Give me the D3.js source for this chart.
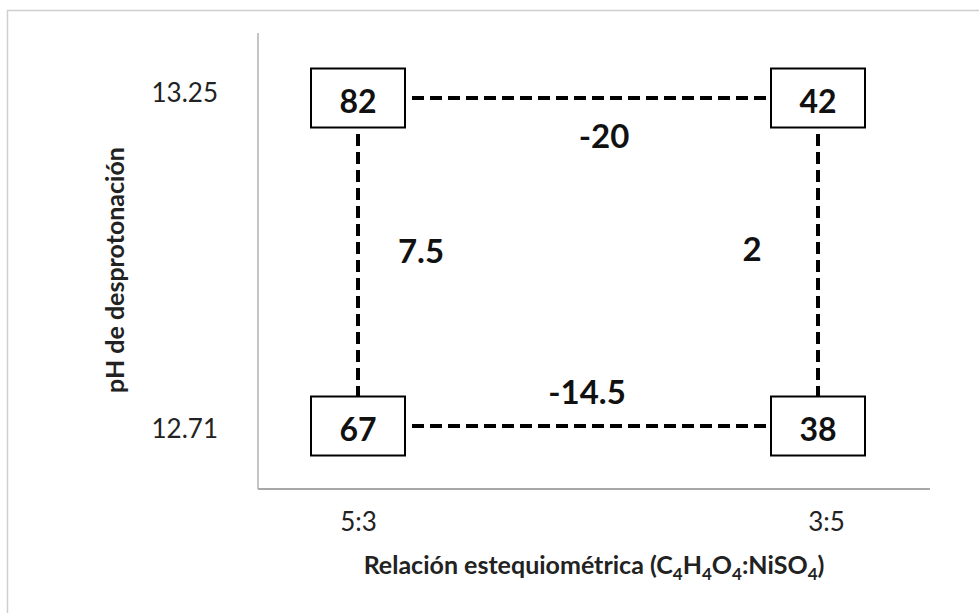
<!DOCTYPE html>
<html>
<head>
<meta charset="utf-8">
<script src="https://cdn.jsdelivr.net/npm/d3@7"></script>
<style>
  body { margin: 0; background: #fff; }
  svg { font-family: Lato, "Open Sans", sans-serif; }
</style>
</head>
<body>
<svg class="chart" width="979" height="613"></svg>
<script>
// factors: ratio (x) and deprotonation pH (y)
var ratios = ["5:3", "3:5"];
var phLevels = [13.25, 12.71];
var phLabels = ["13.25", "12.71"];

// response at each corner
var cells = [
    {ratio: "5:3", ph: 13.25, value: 82},
    {ratio: "3:5", ph: 13.25, value: 42},
    {ratio: "5:3", ph: 12.71, value: 67},
    {ratio: "3:5", ph: 12.71, value: 38}
];

// effects along each edge of the square
var effects = [
    {from: 0, to: 1, label: "-20"},
    {from: 2, to: 3, label: "-14.5"},
    {from: 0, to: 2, label: "7.5"},
    {from: 1, to: 3, label: "2"}
];

var W = 979, H = 613;
var plot = {left: 258, right: 930, top: 33, bottom: 489};
var boxW = 94, boxH = 59;

var svg = d3.select("svg.chart");

var x = d3.scalePoint().domain(ratios).range([358, 818]);
var y = d3.scaleLinear().domain([12.71, 13.25]).range([426, 98]);

// outer frame
svg.append("rect")
    .attr("x", 7.5).attr("y", 10.5)
    .attr("width", W + 10).attr("height", H + 10)
    .attr("fill", "none")
    .attr("stroke", "#cfcfcf")
    .attr("stroke-width", 1.5);

// axis lines
svg.append("line")
    .attr("x1", plot.left).attr("x2", plot.left)
    .attr("y1", plot.top).attr("y2", plot.bottom)
    .attr("stroke", "#8a8a8a").attr("stroke-width", 1);
svg.append("line")
    .attr("x1", plot.left).attr("x2", plot.right)
    .attr("y1", plot.bottom).attr("y2", plot.bottom)
    .attr("stroke", "#a8a8a8").attr("stroke-width", 2);

// tick labels
var yAxis = svg.append("g")
    .attr("transform", "translate(" + plot.left + ",0)")
    .call(d3.axisLeft(y).tickValues(phLevels).tickSize(0).tickPadding(40)
        .tickFormat(function(d, i){ return phLabels[i]; }));
yAxis.select(".domain").remove();
yAxis.selectAll("text")
    .attr("font-family", "Lato, sans-serif")
    .attr("font-size", 26)
    .attr("fill", "#222")
    .attr("dy", function(d, i){ return i === 0 ? "0.15em" : "0.45em"; });

var xAxis = svg.append("g")
    .attr("transform", "translate(0," + plot.bottom + ")")
    .call(d3.axisBottom(x).tickSize(0).tickPadding(24));
xAxis.select(".domain").remove();
xAxis.selectAll("text")
    .attr("font-family", "Lato, sans-serif")
    .attr("font-size", 26)
    .attr("fill", "#222")
    .attr("dx", function(d, i){ return i === 0 ? 0 : 8; });

// dashed connectors
var pos = function(c){ return [x(c.ratio), y(c.ph)]; };
svg.append("g").selectAll("line")
    .data(effects)
    .join("line")
    .attr("x1", function(d){ return pos(cells[d.from])[0]; })
    .attr("y1", function(d){ return pos(cells[d.from])[1]; })
    .attr("x2", function(d){ return pos(cells[d.to])[0]; })
    .attr("y2", function(d){ return pos(cells[d.to])[1]; })
    .attr("stroke", "#000")
    .attr("stroke-width", 4)
    .attr("stroke-dasharray", "12,6");

// effect labels
var labelOffset = {"-20": [16, 37], "-14.5": [-1, -35], "7.5": [63, -12], "2": [-66, -14]};
svg.append("g").selectAll("text")
    .data(effects)
    .join("text")
    .attr("x", function(d){
        var a = pos(cells[d.from]), b = pos(cells[d.to]);
        return (a[0] + b[0]) / 2 + labelOffset[d.label][0];
    })
    .attr("y", function(d){
        var a = pos(cells[d.from]), b = pos(cells[d.to]);
        return (a[1] + b[1]) / 2 + labelOffset[d.label][1];
    })
    .attr("text-anchor", "middle")
    .attr("dominant-baseline", "central")
    .attr("font-size", 33)
    .attr("font-weight", "bold")
    .attr("fill", "#111")
    .text(function(d){ return d.label; });

// value boxes
var boxes = svg.append("g").selectAll("g")
    .data(cells)
    .join("g")
    .attr("transform", function(d){ return "translate(" + x(d.ratio) + "," + y(d.ph) + ")"; });
boxes.append("rect")
    .attr("x", -boxW / 2).attr("y", -boxH / 2)
    .attr("width", boxW).attr("height", boxH)
    .attr("fill", "#fff")
    .attr("stroke", "#000")
    .attr("stroke-width", 2);
boxes.append("text")
    .attr("text-anchor", "middle")
    .attr("dominant-baseline", "central")
    .attr("y", 2)
    .attr("font-size", 32)
    .attr("font-weight", "bold")
    .attr("fill", "#111")
    .text(function(d){ return d.value; });

// axis titles
var xt = svg.append("text")
    .attr("x", 594).attr("y", 574)
    .attr("text-anchor", "middle")
    .attr("font-size", 25)
    .attr("font-weight", "bold")
    .attr("fill", "#222");
var parts = [["Relación estequiométrica (C", 0], ["4", 1], ["H", 0], ["4", 1], ["O", 0], ["4", 1], [":NiSO", 0], ["4", 1], [")", 0]];
parts.forEach(function(p, i){
    var t = xt.append("tspan").text(p[0]);
    if(p[1]){
        t.attr("font-size", 17).attr("dy", 6);
    } else if(i > 0){
        t.attr("dy", -6);
    }
});

svg.append("text")
    .attr("transform", "translate(124,270) rotate(-90)")
    .attr("text-anchor", "middle")
    .attr("font-size", 25)
    .attr("font-weight", "bold")
    .attr("fill", "#222")
    .text("pH de desprotonación");
</script>
</body>
</html>
